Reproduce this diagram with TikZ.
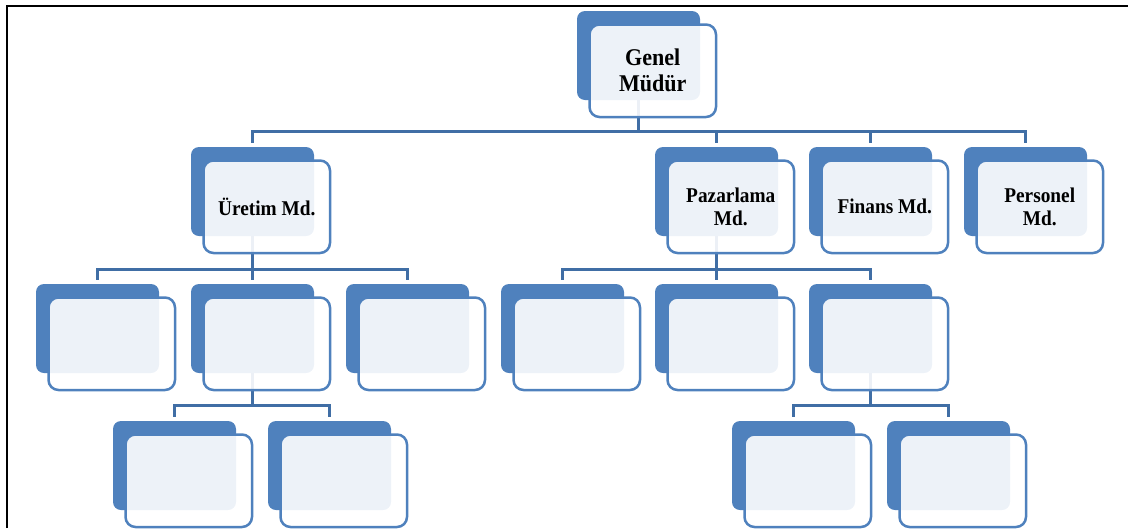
\documentclass[tikz,border=0pt]{standalone}
\usepackage{fontspec}
\setmainfont{Liberation Serif}
\newfontfamily\labelfont[FakeStretch=0.92]{Liberation Serif}
\definecolor{accent}{HTML}{4F81BD}
\definecolor{linkblue}{RGB}{64,110,165}
\pgfdeclarelayer{background}
\pgfsetlayers{background,main}

% one org-chart unit: a solid back card and a translucent front card with the label
\newcommand{\orgunit}[5][]{%
  \node[backbox] (#2) at (#3,#4) {};
  \node[frontbox,#1] (#2-f) at ([shift={(12.5,13.5)}]#2.north west) {#5};
}

\begin{document}
\begin{tikzpicture}[x=1pt,y=-1pt,
  backbox/.style={anchor=north west, fill=accent, rounded corners=8pt,
    minimum width=123pt, minimum height=89pt, inner sep=0pt, outer sep=0pt},
  frontbox/.style={anchor=north west, draw=accent, line width=2.5pt,
    fill=white, fill opacity=0.9, text opacity=1, rounded corners=10pt,
    minimum width=126.5pt, minimum height=92.5pt, inner sep=0pt, outer sep=0pt,
    align=center, font=\labelfont\bfseries\fontsize{21}{23.4}\selectfont},
  conn/.style={draw=linkblue, line width=3pt, shorten >=4pt},
]
\useasboundingbox (0,0) rectangle (1128,528);

% frame
\draw[line width=2pt] (7,528) -- (7,6) -- (1128,6);

% top
\orgunit[font=\labelfont\bfseries\fontsize{24}{26}\selectfont]{gm}{577}{11}{Genel\\Müdür}

% first level
\orgunit{ur}{191}{147}{Üretim Md.}
\orgunit{pz}{655}{147}{Pazarlama\\Md.}
\orgunit{fn}{809}{147}{Finans Md.}
\orgunit{ps}{964}{147}{Personel\\Md.}

% second level
\orgunit{u1}{36}{284}{}
\orgunit{u2}{191}{284}{}
\orgunit{u3}{346}{284}{}
\orgunit{p1}{501}{284}{}
\orgunit{p2}{655}{284}{}
\orgunit{p3}{809}{284}{}

% third level
\orgunit{u21}{113}{421}{}
\orgunit{u22}{268}{421}{}
\orgunit{p31}{732}{421}{}
\orgunit{p32}{887}{421}{}

% connectors
\begin{pgfonlayer}{background}
  \coordinate (bus0) at (0,131);
  \coordinate (bus1) at (0,269);
  \coordinate (bus2) at (0,405);
  \foreach \c in {ur,pz,fn,ps}
    \draw[conn] (gm.south) -- (gm.south |- bus0) -| (\c.north);
  \foreach \c in {u1,u2,u3}
    \draw[conn] (ur.south) -- (ur.south |- bus1) -| (\c.north);
  \foreach \c in {p1,p2,p3}
    \draw[conn] (pz.south) -- (pz.south |- bus1) -| (\c.north);
  \foreach \c in {u21,u22}
    \draw[conn] (u2.south) -- (u2.south |- bus2) -| (\c.north);
  \foreach \c in {p31,p32}
    \draw[conn] (p3.south) -- (p3.south |- bus2) -| (\c.north);
\end{pgfonlayer}
\end{tikzpicture}
\end{document}
